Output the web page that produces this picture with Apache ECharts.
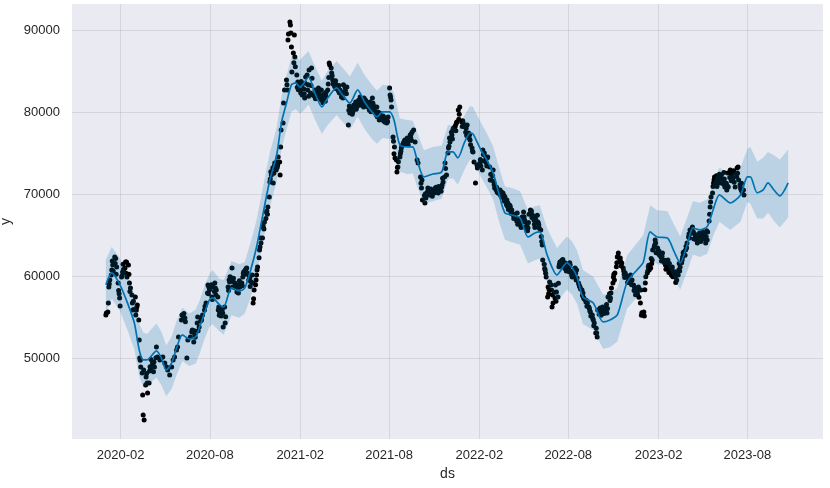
<!DOCTYPE html>
<html><head><meta charset="utf-8">
<script src="https://cdn.jsdelivr.net/npm/echarts@6/dist/echarts.min.js"></script>
<style>html,body{margin:0;padding:0;background:#fff}#c{width:830px;height:488px}</style>
</head><body><div id="c"></div>
<script>
const xTicks = ['2020-02-01','2020-08-01','2021-02-01','2021-08-01','2022-02-01','2022-08-01','2023-02-01','2023-08-01'];
const yTicks = [50000,60000,70000,80000,90000];

const fcstDates = ['2020-01-02','2020-01-14','2020-01-30','2020-02-15','2020-02-29','2020-03-10','2020-03-18','2020-03-26','2020-04-14','2020-04-24',
'2020-05-04','2020-05-15','2020-05-25','2020-06-06','2020-06-20','2020-07-03','2020-07-11','2020-07-21','2020-07-31','2020-08-06',
'2020-08-21','2020-08-29','2020-09-14','2020-09-30','2020-10-11','2020-10-23','2020-11-04','2020-11-16','2020-12-01','2020-12-15',
'2020-12-25','2021-01-04','2021-01-14','2021-01-23','2021-01-31','2021-02-06','2021-02-18','2021-03-02','2021-03-17','2021-03-29',
'2021-04-16','2021-04-28','2021-05-13','2021-05-29','2021-06-12','2021-06-27','2021-07-07','2021-07-19','2021-08-02','2021-08-11',
'2021-08-23','2021-09-08','2021-09-18','2021-09-26','2021-10-11','2021-10-29','2021-11-16','2021-11-29','2021-12-09','2021-12-19',
'2022-01-02','2022-01-13','2022-01-19','2022-02-02','2022-02-16','2022-03-01','2022-03-15','2022-03-25','2022-04-08','2022-04-25',
'2022-05-11','2022-05-25','2022-06-04','2022-06-19','2022-07-09','2022-07-29','2022-08-09','2022-08-19','2022-08-31','2022-09-21',
'2022-10-11','2022-10-25','2022-11-09','2022-11-29','2022-12-19','2023-01-01','2023-01-15','2023-01-29','2023-02-19','2023-03-05',
'2023-03-17','2023-04-02','2023-04-12','2023-04-26','2023-05-11','2023-05-23','2023-06-05','2023-06-27','2023-07-18','2023-08-01',
'2023-08-07','2023-08-21','2023-09-02','2023-09-12','2023-09-24','2023-10-06','2023-10-23'];

const yhat = [59000,60450,59100,56800,54350,51050,49850,49850,50950,50100,
48600,49480,51300,52900,52400,52650,53870,55570,57160,57400,
56550,56300,58620,58260,58620,60820,63620,67280,71790,74840,
78870,81180,83380,83620,83130,83380,84350,82520,80700,81790,
83010,82160,81180,82770,81300,80090,79480,80090,80090,79110,
76060,75820,75820,74480,72160,72520,72770,75210,75210,74480,
76430,77520,77400,75700,74230,72650,69600,67770,67520,67160,
64840,65330,65450,62650,60210,61670,61060,59960,57520,56790,
54480,54720,55330,59350,60820,61790,65450,64840,64720,63010,
61670,64230,65940,65700,66100,68130,69960,68990,69960,72160,
72160,70210,70570,71430,70570,69840,71430];

const yhatUpper = [62100,63650,62300,60100,57700,54300,53200,53000,54300,53300,
51600,52700,54600,56200,55500,56000,57100,58900,60300,60800,
59700,59600,61900,61500,61800,64200,66900,70600,75100,78200,
82100,84500,86700,86900,86400,86800,87500,85800,83900,85100,
86300,85500,84400,86100,84600,83400,82700,83400,83300,82400,
79300,79100,79000,77800,75400,75800,76000,78500,78400,77800,
79700,80800,80700,79000,77500,75900,72900,71000,70800,70400,
68100,68600,68700,65900,63500,64900,64300,63200,60800,60000,
57800,58000,58600,62600,64100,65100,68700,68100,68000,66300,
64900,67500,69200,69000,69400,71400,73300,72300,73300,75600,
75800,74000,74500,75200,74800,74300,75500];

const yhatLower = [55600,57300,55900,53500,51100,47800,46600,46700,47700,46800,
45400,46300,48000,49700,49100,49400,50600,52400,53900,54200,
53300,52900,55300,55000,55500,57500,60400,63900,68500,71600,
75600,77900,80100,80400,79900,80100,81000,79300,77400,78500,
79700,78900,77900,79500,78000,76800,76200,76900,76800,75800,
72800,72500,72600,71200,68900,69200,69500,71900,72000,71200,
73100,74300,74100,72400,70900,69400,66300,64500,64200,63900,
61600,62000,62200,59400,56900,58400,57800,56700,54200,53500,
51200,51400,52100,56100,57500,58500,62200,61500,61400,59700,
58400,60900,62700,62400,62800,64900,66700,65700,66700,69100,
68900,67100,67100,67800,66800,66000,67200];

const observed = [
['2020-01-02',55330],['2020-01-03',55570],['2020-01-06',55700],['2020-01-07',56790],['2020-01-08',58740],['2020-01-10',59600],['2020-01-13',60210],['2020-01-14',60820],['2020-01-16',61430],['2020-01-20',62400],
['2020-01-24',61180],['2020-01-27',59230],['2020-01-30',57400],['2020-01-31',56430],['2020-02-03',59960],['2020-02-05',60570],['2020-02-10',61060],['2020-02-13',61790],['2020-02-14',59960],['2020-02-17',61430],
['2020-02-19',59230],['2020-02-24',57770],['2020-02-25',56790],['2020-02-26',55940],['2020-03-02',57520],['2020-03-03',55330],['2020-03-05',56300],['2020-03-06',56550],['2020-03-09',54720],['2020-03-10',52280],
['2020-03-11',50090],['2020-03-13',48990],['2020-03-16',48260],['2020-03-17',45570],['2020-03-18',43130],['2020-03-19',48620],['2020-03-20',42520],['2020-03-24',47770],['2020-03-26',47040],['2020-03-27',45820],
['2020-03-30',47040],['2020-04-06',49480],['2020-04-10',48990],['2020-04-14',51430],['2020-04-16',50210],['2020-04-21',49840],['2020-04-24',50090],['2020-04-27',50210],['2020-05-01',49480],['2020-05-05',48990],
['2020-05-07',48620],['2020-05-11',48010],['2020-05-15',48990],['2020-05-18',49840],['2020-05-21',50210],['2020-05-25',51060],['2020-05-27',51430],['2020-05-29',52650],['2020-06-04',54720],['2020-06-05',55330],
['2020-06-11',54960],['2020-06-15',50090],['2020-06-17',52280],['2020-06-22',52650],['2020-06-25',53260],['2020-06-26',53500],['2020-06-29',52040],['2020-07-01',52890],
['2020-07-06',54350],['2020-07-07',55090],['2020-07-10',53870],['2020-07-15',54720],['2020-07-17',55330],['2020-07-21',55940],['2020-07-24',56790],['2020-07-27',58010],['2020-07-28',58990],['2020-07-31',58380],
['2020-08-05',57520],['2020-08-07',58740],['2020-08-11',59230],['2020-08-14',58380],['2020-08-17',57520],['2020-08-18',55940],['2020-08-21',55570],['2020-08-25',55940],['2020-08-27',55570],['2020-08-28',53870],
['2020-08-31',56300],['2020-09-01',54350],['2020-09-07',58740],['2020-09-10',59350],['2020-09-14',59840],['2020-09-15',61060],['2020-09-16',58740],['2020-09-21',59230],['2020-09-25',58130],['2020-09-28',58010],
['2020-10-01',58740],['2020-10-05',59230],['2020-10-07',59960],['2020-10-12',60820],['2020-10-15',61060],['2020-10-16',60450],['2020-10-21',59840],['2020-10-26',60210],['2020-10-27',59230],['2020-10-28',56790],
['2020-10-30',58380],['2020-11-04',60210],['2020-11-06',61180],['2020-11-10',63260],['2020-11-13',64110],['2020-11-16',64720],['2020-11-17',66300],['2020-11-20',66670],['2020-11-24',67890],['2020-11-27',68500],
['2020-11-30',69720],['2020-12-01',71550],['2020-12-04',72400],['2020-12-07',73260],['2020-12-08',71430],['2020-12-11',73870],['2020-12-14',73010],['2020-12-15',73990],['2020-12-17',73620],['2020-12-18',74600],
['2020-12-21',73990],['2020-12-22',72400],
['2020-12-24',77890],['2020-12-28',78740],['2020-12-29',81180],['2020-12-31',82770],['2021-01-04',83990],['2021-01-06',82770],['2021-01-07',88870],['2021-01-11',91060],['2021-01-12',90690],['2021-01-13',89720],
['2021-01-14',88010],['2021-01-15',84960],['2021-01-18',87280],['2021-01-20',89480],['2021-01-21',86790],['2021-01-25',84600],['2021-01-27',83740],['2021-02-01',82770],['2021-02-04',83380],['2021-02-05',82160],
['2021-02-10',81790],['2021-02-12',84350],['2021-02-15',84600],['2021-02-16',82770],['2021-02-19',85210],['2021-02-22',82400],['2021-02-24',85450],['2021-02-26',82160],['2021-03-03',82770],['2021-03-05',82400],
['2021-03-08',82520],['2021-03-11',82160],['2021-03-16',82770],['2021-03-18',81550],['2021-03-23',81790],['2021-03-26',82520],['2021-03-29',82770],['2021-04-01',86060],['2021-04-05',85450],['2021-04-06',84840],
['2021-04-08',83990],['2021-04-13',83740],['2021-04-16',83380],['2021-04-19',83010],['2021-04-23',82770],['2021-04-27',82160],['2021-04-29',81790],['2021-05-03',83130],['2021-05-07',83130],['2021-05-10',78500],
['2021-05-13',79960],['2021-05-17',80570],['2021-05-19',80090],['2021-05-21',80940],['2021-05-27',80690],['2021-05-28',81180],
['2021-06-03',81910],['2021-06-07',81550],['2021-06-09',81180],['2021-06-14',81550],['2021-06-17',81180],['2021-06-18',80690],['2021-06-23',81300],['2021-06-28',81790],['2021-06-29',81180],['2021-07-02',80330],
['2021-07-07',80690],['2021-07-09',80090],['2021-07-13',79960],['2021-07-16',79480],['2021-07-19',79110],['2021-07-23',78870],['2021-07-27',78740],['2021-07-30',79480],['2021-08-02',83010],['2021-08-03',82160],
['2021-08-05',81550],['2021-08-06',80690],['2021-08-09',77040],['2021-08-12',75820],['2021-08-13',74480],['2021-08-16',74230],['2021-08-17',72770],['2021-08-19',73380],['2021-08-23',74600],['2021-08-26',75690],
['2021-08-30',76300],['2021-09-02',76670],['2021-09-07',76910],['2021-09-08',76430],['2021-09-13',77280],['2021-09-17',77650],['2021-09-20',77890],['2021-09-23',76430],['2021-09-27',74230],['2021-09-29',73870],
['2021-10-04',72160],['2021-10-07',71790],['2021-10-08',69350],['2021-10-13',68990],['2021-10-18',70330],['2021-10-19',70820],['2021-10-22',69960],['2021-10-27',70330],['2021-10-29',70210],['2021-11-03',70820],
['2021-11-08',70570],['2021-11-09',70210],['2021-11-12',70820],['2021-11-17',71180],['2021-11-19',71550],['2021-11-22',72160],['2021-11-23',73870],['2021-11-26',72400],['2021-11-29',75090],['2021-11-30',75690],
['2021-12-03',76430],['2021-12-07',77280],['2021-12-09',77890],['2021-12-13',78260],['2021-12-17',78870],['2021-12-20',80330],['2021-12-23',80690],
['2021-12-27',78870],['2021-12-30',78740],['2022-01-03',78260],['2022-01-07',78500],['2022-01-10',77520],['2022-01-13',76670],['2022-01-17',75690],['2022-01-19',75210],['2022-01-21',73990],['2022-01-24',71430],
['2022-01-27',73620],['2022-01-28',73260],['2022-02-02',73870],['2022-02-07',73010],['2022-02-08',75450],['2022-02-11',75090],['2022-02-17',74480],['2022-02-18',74600],['2022-02-22',73380],['2022-02-23',71790],
['2022-02-25',71790],['2022-03-01',73010],['2022-03-04',70820],['2022-03-09',70330],['2022-03-11',70210],['2022-03-15',70570],['2022-03-18',70330],['2022-03-21',70210],['2022-03-25',69720],['2022-03-29',69350],
['2022-03-31',68990],['2022-04-05',68500],['2022-04-08',68130],['2022-04-11',67520],['2022-04-14',67280],['2022-04-19',67770],['2022-04-21',66910],['2022-04-25',66550],['2022-04-29',67280],['2022-05-02',67890],
['2022-05-05',66670],['2022-05-09',66300],['2022-05-11',65940],['2022-05-16',68130],['2022-05-20',67520],['2022-05-23',66910],['2022-05-26',67280],['2022-05-31',66670],['2022-06-01',66550],['2022-06-06',65690],
['2022-06-09',63870],['2022-06-10',62040],['2022-06-15',60820],['2022-06-17',59960],['2022-06-20',57520],['2022-06-21',58740],['2022-06-24',59350],['2022-06-28',58380],['2022-06-29',56300],['2022-06-30',57770],
['2022-07-01',56790],['2022-07-05',57400],['2022-07-06',58990],['2022-07-08',58130],['2022-07-11',57520],
['2022-07-15',61790],['2022-07-20',62040],['2022-07-22',61790],['2022-07-26',61670],['2022-07-29',61180],['2022-08-01',60820],['2022-08-05',61430],['2022-08-09',59960],['2022-08-11',60450],['2022-08-15',61060],
['2022-08-19',59840],['2022-08-22',59230],['2022-08-25',58740],['2022-08-29',58380],['2022-08-31',58010],['2022-09-05',57160],['2022-09-09',56790],['2022-09-12',56300],['2022-09-15',55690],['2022-09-19',55330],
['2022-09-21',54720],['2022-09-23',54350],['2022-09-26',53130],['2022-09-28',53130],['2022-09-29',52650],['2022-09-30',55940],['2022-10-05',56180],['2022-10-10',56300],['2022-10-11',55690],['2022-10-14',56180],
['2022-10-19',55570],['2022-10-21',57520],['2022-10-26',57400],['2022-10-31',59230],['2022-11-01',59960],['2022-11-04',60450],['2022-11-09',62400],['2022-11-11',62890],['2022-11-15',62280],['2022-11-18',61670],
['2022-11-21',61060],['2022-11-25',60450],['2022-11-29',59960],['2022-12-01',59350],['2022-12-05',59230],['2022-12-06',60210],['2022-12-09',59600],['2022-12-12',58990],['2022-12-15',58380],['2022-12-19',58130],
['2022-12-22',58740],['2022-12-26',56790],['2022-12-27',58380],['2022-12-30',55570],['2023-01-03',55200],
['2023-01-05',59230],['2023-01-09',60450],['2023-01-11',61180],['2023-01-16',61060],['2023-01-19',62040],['2023-01-20',63260],['2023-01-24',63870],['2023-01-25',64480],['2023-01-30',63500],['2023-01-31',63260],
['2023-02-06',62400],['2023-02-09',62890],['2023-02-10',62040],['2023-02-15',61430],['2023-02-20',62040],['2023-02-21',61180],['2023-02-24',60820],['2023-03-01',61180],['2023-03-03',60450],['2023-03-07',59960],
['2023-03-10',59600],['2023-03-13',60210],['2023-03-17',61180],['2023-03-21',62040],['2023-03-23',62890],['2023-03-28',63260],['2023-03-31',64110],['2023-04-03',64840],['2023-04-06',65690],['2023-04-11',66060],
['2023-04-13',65450],['2023-04-17',64840],['2023-04-21',64110],['2023-04-24',64480],['2023-04-27',65090],['2023-05-02',65450],['2023-05-03',64840],['2023-05-08',64110],['2023-05-11',64480],['2023-05-12',65450],
['2023-05-17',68500],['2023-05-22',70210],['2023-05-24',71430],
['2023-05-26',72160],['2023-06-01',71550],['2023-06-02',72040],['2023-06-06',71430],['2023-06-09',72400],['2023-06-12',71790],['2023-06-16',70940],['2023-06-20',70570],['2023-06-22',72650],['2023-06-23',70940],
['2023-06-27',73010],['2023-06-30',72400],['2023-07-03',72040],['2023-07-06',72650],['2023-07-07',70940],['2023-07-11',73260],['2023-07-13',73380],['2023-07-14',71790],['2023-07-18',70820],['2023-07-21',70330],
['2023-07-24',70570],['2023-07-25',69960]
];

// further trading days read from the dense parts of the point cloud
const observedMore = [
['2020-01-09',59100],['2020-01-15',61900],['2020-01-17',60700],['2020-01-21',61600],['2020-01-22',62200],['2020-01-23',60300],['2020-01-28',58300],['2020-01-29',57900],
['2020-02-04',60100],['2020-02-06',61500],['2020-02-07',60900],['2020-02-11',61800],['2020-02-12',60400],['2020-02-18',60300],['2020-02-20',58200],['2020-02-21',58600],['2020-02-27',57000],['2020-02-28',56000],
['2020-03-04',55900],['2020-03-12',49800],['2020-03-23',46800],['2020-03-25',48200],['2020-03-31',48500],['2020-04-01',49000],['2020-04-02',48700],['2020-04-03',49900],['2020-04-07',49200],['2020-04-08',48400],['2020-04-09',49600],['2020-04-13',50100],
['2020-06-08',55100],['2020-06-09',55500],['2020-06-12',54500],['2020-06-30',53400],['2020-07-02',52600],['2020-07-08',53400],['2020-07-13',54600],['2020-07-14',55000],['2020-07-22',56400],['2020-07-29',57900],['2020-07-30',58700],
['2020-08-03',58700],['2020-08-04',59000],['2020-08-06',57200],['2020-08-10',58200],['2020-08-12',58600],['2020-08-13',57800],['2020-08-19',56300],['2020-08-20',55300],['2020-08-24',55200],['2020-08-26',56000],['2020-09-02',55100],['2020-09-08',58300],['2020-09-09',59600],['2020-09-11',60000],['2020-09-17',59400],['2020-09-18',59800],['2020-09-22',58600],['2020-09-23',58900],['2020-09-24',59000],['2020-09-29',58700],['2020-09-30',59500],
['2020-10-02',59100],['2020-10-06',58900],['2020-10-08',60400],['2020-10-09',60600],['2020-10-13',60300],['2020-10-14',61000],['2020-10-19',59600],['2020-10-20',60100],['2020-10-22',58800],['2020-10-23',59400],['2020-10-29',57300],['2020-11-02',59000],['2020-11-03',59600],['2020-11-05',60800],['2020-11-09',62300],['2020-11-11',63600],['2020-11-12',64700],['2020-11-18',66000],['2020-11-19',65800],['2020-11-23',67100],['2020-11-25',68000],['2020-11-26',67600],
['2020-12-02',71900],['2020-12-03',72800],['2020-12-09',72600],['2020-12-10',73500],['2020-12-16',73300],['2020-12-23',75800],
['2021-01-05',83400],['2021-01-08',89600],['2021-01-19',86100],['2021-01-22',85600],['2021-01-26',83100],['2021-01-28',82800],['2021-01-29',83500],['2021-02-02',82400],['2021-02-03',83800],['2021-02-08',82900],['2021-02-09',82300],['2021-02-11',83600],['2021-02-17',83400],['2021-02-18',82000],['2021-02-23',83300],['2021-02-25',84200],
['2021-03-02',82000],['2021-03-04',81700],['2021-03-09',81900],['2021-03-10',83000],['2021-03-12',82300],['2021-03-15',81600],['2021-03-17',82000],['2021-03-19',81200],['2021-03-22',82300],['2021-03-24',81400],['2021-03-25',82100],['2021-03-30',83500],['2021-03-31',84300],
['2021-04-02',85800],['2021-04-07',84500],['2021-04-09',83500],['2021-04-12',83200],['2021-04-14',83900],['2021-04-15',82900],['2021-04-20',82600],['2021-04-21',83300],['2021-04-22',82400],['2021-04-26',81900],['2021-04-28',82500],['2021-04-30',83400],['2021-05-04',82700],['2021-05-06',82300],['2021-05-11',80300],['2021-05-12',80800],['2021-05-14',80200],['2021-05-18',79800],['2021-05-20',80300],['2021-05-24',80700],['2021-05-25',81300],['2021-05-26',80400],['2021-05-31',81500],
['2021-06-01',81200],['2021-06-02',80900],['2021-06-04',81600],['2021-06-08',80900],['2021-06-10',80700],['2021-06-11',81800],['2021-06-15',80900],['2021-06-16',81300],['2021-06-21',80800],['2021-06-22',80300],['2021-06-24',80600],['2021-06-25',80100],['2021-06-30',80900],['2021-07-01',80500],['2021-07-05',80000],['2021-07-06',79700],['2021-07-08',79500],['2021-07-12',79100],['2021-07-14',79700],['2021-07-15',79300],['2021-07-20',79600],['2021-07-21',79000],['2021-07-22',79400],['2021-07-26',79200],['2021-07-28',79000],['2021-07-29',78900],
['2021-08-04',81900],['2021-08-10',76500],['2021-08-11',75000],['2021-08-18',73300],['2021-08-20',74000],['2021-08-24',75000],['2021-08-25',75300],['2021-08-27',76000],['2021-08-31',76100],['2021-09-01',76500],['2021-09-03',76200],['2021-09-06',76700],['2021-09-09',76100],['2021-09-10',76800],['2021-09-14',77000],['2021-09-15',77400],['2021-09-16',76600],
['2021-10-05',71400],['2021-10-06',70800],['2021-10-12',69900],['2021-10-14',70100],['2021-10-15',69600],['2021-10-20',70500],['2021-10-21',70000],['2021-10-25',70700],['2021-10-26',70400],['2021-10-28',69800],['2021-11-01',70200],['2021-11-02',70600],['2021-11-04',70400],['2021-11-05',70900],['2021-11-10',71000],['2021-11-11',70600],['2021-11-15',70400],['2021-11-16',70900],['2021-11-18',72000],['2021-11-24',73200],
['2021-12-01',75900],['2021-12-02',76900],['2021-12-06',77600],['2021-12-08',76800],['2021-12-10',78100],['2021-12-14',78400],['2021-12-15',77800],['2021-12-16',78700],['2021-12-21',79200],['2021-12-22',79800],['2021-12-28',78300],['2021-12-29',79000],['2022-01-04',77600],['2022-01-05',78100],['2022-01-06',77200],['2022-01-11',76900],['2022-01-12',77300],['2022-01-14',76100],['2022-01-18',75300],
['2022-02-03',74300],['2022-02-04',73500],['2022-02-09',74900],['2022-02-10',74100],['2022-02-14',74600],['2022-02-15',73900],['2022-02-16',73500],['2022-02-24',72500],['2022-02-28',72300],['2022-03-02',71600],['2022-03-03',71200],['2022-03-07',70600],['2022-03-08',70900],['2022-03-10',70600],['2022-03-14',70100],['2022-03-16',70000],['2022-03-17',69800],['2022-03-22',69600],['2022-03-23',69900],['2022-03-24',69200],['2022-03-28',68800],['2022-03-30',68600],
['2022-04-01',68200],['2022-04-04',68700],['2022-04-06',67900],['2022-04-07',67700],['2022-04-12',67100],['2022-04-13',67600],['2022-04-18',66800],['2022-04-20',66400],['2022-04-22',67000],['2022-04-26',66200],['2022-04-27',66000],['2022-04-28',66800],['2022-05-03',67300],['2022-05-04',66900],['2022-05-06',66000],['2022-05-10',65600],['2022-05-12',66600],['2022-05-13',67600],['2022-05-17',67900],['2022-05-18',68000],['2022-05-19',67200],['2022-05-24',66400],['2022-05-25',66000],['2022-05-27',66900],['2022-05-30',67500],
['2022-06-02',66300],['2022-06-03',65900],['2022-06-07',64900],['2022-06-08',64300],['2022-06-13',61500],['2022-06-14',61000],['2022-06-16',60400],['2022-06-22',57900],['2022-06-23',58400],['2022-06-27',59000],['2022-07-04',58100],['2022-07-07',57000],['2022-07-12',59200],['2022-07-13',61200],['2022-07-14',61500],['2022-07-18',61900],['2022-07-19',61300],['2022-07-21',62100],['2022-07-25',61000],['2022-07-27',61500],['2022-07-28',60700],
['2022-08-02',61100],['2022-08-03',60600],['2022-08-04',61700],['2022-08-08',60200],['2022-08-10',60700],['2022-08-12',60000],['2022-08-16',60400],['2022-08-17',59600],['2022-08-18',60800],['2022-08-23',59000],['2022-08-24',58800],['2022-08-26',58500],['2022-08-30',57700],['2022-09-01',57500],['2022-09-02',57300],['2022-09-06',56900],['2022-09-07',57100],['2022-09-08',56400],['2022-09-13',56100],['2022-09-14',55800],['2022-09-16',55200],['2022-09-20',54900],['2022-09-22',54000],['2022-09-27',53700],
['2022-10-03',55400],['2022-10-04',55900],['2022-10-06',55600],['2022-10-07',55300],['2022-10-12',56000],['2022-10-13',55500],['2022-10-17',55900],['2022-10-18',56600],['2022-10-20',56100],['2022-10-24',57900],['2022-10-25',57100],['2022-10-27',58000],['2022-10-28',58600],['2022-11-02',60300],['2022-11-03',59600],['2022-11-07',61200],['2022-11-08',61700],['2022-11-10',62500],['2022-11-14',62100],['2022-11-16',61800],['2022-11-17',61300],['2022-11-22',60700],['2022-11-23',60300],['2022-11-24',59900],['2022-11-28',60100],['2022-11-30',59300],
['2022-12-02',59800],['2022-12-07',59500],['2022-12-08',59000],['2022-12-13',58300],['2022-12-14',58700],['2022-12-16',57800],['2022-12-20',57900],['2022-12-21',58400],['2022-12-23',57500],['2022-12-28',55300],['2022-12-29',55600],['2023-01-02',55700],['2023-01-04',58400],['2023-01-06',60000],['2023-01-10',60700],['2023-01-12',61400],['2023-01-13',60800],['2023-01-17',62200],['2023-01-18',61600],['2023-01-23',63600],['2023-01-26',64100],['2023-01-27',62900],
['2023-02-01',62800],['2023-02-02',63100],['2023-02-03',62600],['2023-02-07',61900],['2023-02-08',62500],['2023-02-13',61700],['2023-02-14',62000],['2023-02-16',60900],['2023-02-17',61500],['2023-02-22',60500],['2023-02-23',61600],['2023-02-27',60200],['2023-02-28',61000],['2023-03-02',60000],['2023-03-06',60600],['2023-03-08',59300],['2023-03-09',60300],['2023-03-14',60800],['2023-03-15',61600],['2023-03-16',60700],['2023-03-20',61700],['2023-03-22',62400],['2023-03-24',63000],['2023-03-27',62600],['2023-03-29',63700],['2023-03-30',63500],
['2023-04-04',65200],['2023-04-05',64700],['2023-04-07',65300],['2023-04-10',65800],['2023-04-12',65300],['2023-04-14',64600],['2023-04-18',65100],['2023-04-19',64500],['2023-04-20',64900],['2023-04-25',65300],['2023-04-26',64700],['2023-04-28',64300],['2023-05-01',65000],['2023-05-04',65200],['2023-05-05',64600],['2023-05-09',64900],['2023-05-10',65600],['2023-05-15',66800],['2023-05-16',67600],['2023-05-18',69100],['2023-05-19',69700],['2023-05-23',71000],['2023-05-25',71800],['2023-05-29',71200],['2023-05-30',72300],['2023-05-31',71000],
['2023-06-05',72500],['2023-06-07',72000],['2023-06-08',71600],['2023-06-13',71300],['2023-06-14',72700],['2023-06-15',71900],['2023-06-19',71400],['2023-06-21',71100],['2023-06-26',72100],['2023-06-28',72800],['2023-06-29',71700],['2023-07-04',72900],['2023-07-05',71500],['2023-07-10',72200],['2023-07-12',72600],['2023-07-17',71200],['2023-07-19',70600],['2023-07-20',71400]
];

// dates -> UTC timestamps for a numeric date axis
const ts = d => Date.parse(d + 'T00:00:00Z');
const pad = n => (n < 10 ? '0' : '') + n;
const fmtMonth = v => { const d = new Date(v); return d.getUTCFullYear() + '-' + pad(d.getUTCMonth() + 1); };

const chart = echarts.init(document.getElementById('c'), null, {renderer: 'canvas'});
const lineData = fcstDates.map((d, i) => [ts(d), yhat[i]]);
const bandData = fcstDates.map((d, i) => [ts(d), yhatUpper[i], yhatLower[i]]);
const obsData = observed.concat(observedMore).map(p => [ts(p[0]), p[1]]);
const xTickVals = xTicks.map(ts);
const txt = '#262626';
const gridColor = 'rgba(128,128,128,0.2)';
const fontFam = '"Liberation Sans", Arial, sans-serif';

function renderBand(params, api) {
  if (params.dataIndex !== 0) return null;
  const up = [], lo = [];
  for (let i = 0; i < bandData.length; i++) {
    up.push(api.coord([bandData[i][0], bandData[i][1]]));
    lo.push(api.coord([bandData[i][0], bandData[i][2]]));
  }
  return {type: 'polygon', shape: {points: up.concat(lo.reverse())},
    style: {fill: 'rgba(0,114,178,0.2)', stroke: null}};
}

chart.setOption({
  animation: false,
  textStyle: {fontFamily: fontFam},
  grid: {left: 72, right: 7, top: 4, bottom: 49, outerBoundsMode: 'none', containLabel: false,
    show: true, backgroundColor: '#EAEAF2', borderWidth: 0},
  xAxis: {
    type: 'value', min: ts('2019-10-25'), max: ts('2024-01-02'), scale: true,
    name: 'ds', nameLocation: 'middle', nameGap: 25,
    nameTextStyle: {color: txt, fontSize: 14, fontFamily: fontFam},
    axisLine: {show: false}, axisTick: {show: false, customValues: xTickVals},
    axisLabel: {customValues: xTickVals, color: txt, fontSize: 13, margin: 10, fontFamily: fontFam,
      formatter: v => fmtMonth(v)},
    splitLine: {show: true, lineStyle: {color: gridColor, width: 1}}
  },
  yAxis: {
    type: 'value', min: 40200, max: 93250,
    name: 'y', nameLocation: 'middle', nameGap: 43, nameRotate: 90,
    nameTextStyle: {color: txt, fontSize: 14, fontFamily: fontFam},
    axisLine: {show: false}, axisTick: {show: false, customValues: yTicks},
    axisLabel: {customValues: yTicks, color: txt, fontSize: 13, margin: 12, fontFamily: fontFam,
      formatter: v => String(v)},
    splitLine: {show: true, lineStyle: {color: gridColor, width: 1}}
  },
  series: [
    {type: 'scatter', data: obsData, symbolSize: 5, itemStyle: {color: '#000', opacity: 1}, z: 2, silent: true},
    {type: 'line', data: lineData, showSymbol: false, smooth: 0.25, lineStyle: {color: '#0072B2', width: 1.7}, z: 3, silent: true},
    {type: 'custom', data: bandData, renderItem: renderBand, encode: {x: 0, y: [1, 2]}, z: 4, silent: true}
  ]
});
</script></body></html>
